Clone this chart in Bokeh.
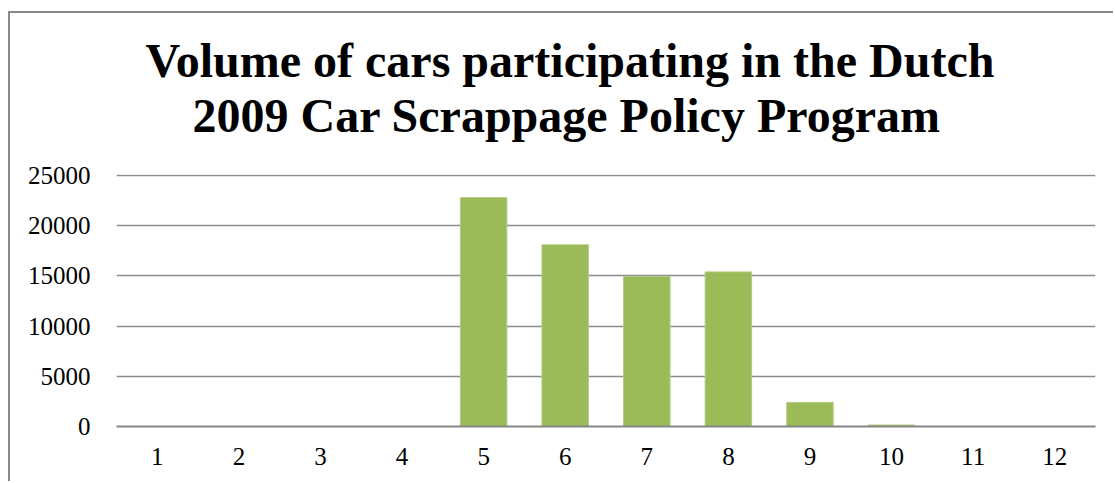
from bokeh.plotting import figure
from bokeh.models import Range1d, Title, ColumnDataSource, FixedTicker
from bokeh.embed import file_html
from bokeh.resources import INLINE

months = ["1", "2", "3", "4", "5", "6", "7", "8", "9", "10", "11", "12"]
cars = [0, 0, 0, 0, 22800, 18100, 14950, 15400, 2400, 150, 0, 0]
y_ticks = [0, 5000, 10000, 15000, 20000, 25000]
title_lines = ["Volume of cars participating in the Dutch",
               "2009 Car Scrappage Policy Program"]

src = ColumnDataSource(dict(month=months, cars=cars))

p = figure(x_range=months, y_range=Range1d(0, 25100),
           width=1105, height=470, output_backend="svg", toolbar_location=None,
           min_border_left=106, min_border_right=20, min_border_bottom=57,
           min_border_top=0)
p.styles = {"margin-left": "8px", "margin-top": "11px",
            "border-left": "2px solid #8a8a8a", "border-top": "2px solid #8a8a8a"}

# stacked from the plot upwards
p.add_layout(Title(text=" ", text_font_size="19px"), "above")
p.add_layout(Title(text=title_lines[1], align="left", text_font="Liberation Serif",
                   text_font_size="48px", text_font_style="bold",
                   text_color="black", offset=76, standoff=0), "above")
p.add_layout(Title(text=title_lines[0], align="left", text_font="Liberation Serif",
                   text_font_size="48px", text_font_style="bold",
                   text_color="black", offset=29, standoff=0), "above")
p.add_layout(Title(text=" ", text_font_size="5px"), "above")

p.vbar(x="month", top="cars", width=0.57, source=src,
       fill_color="#9BBB59", line_color="#B5CC85", line_width=1)

p.outline_line_color = None
p.background_fill_color = "white"
p.border_fill_color = "white"

p.xgrid.grid_line_color = None
p.ygrid.grid_line_color = "#8c8c8c"
p.ygrid.grid_line_width = 1.5
p.yaxis.ticker = FixedTicker(ticks=y_ticks)

for ax in (p.xaxis[0], p.yaxis[0]):
    ax.major_tick_line_color = None
    ax.minor_tick_line_color = None
    ax.major_label_text_font = "Liberation Serif"
    ax.major_label_text_font_size = "25px"
    ax.major_label_text_color = "black"

p.yaxis.axis_line_color = None
p.yaxis.major_label_standoff = 20
p.xaxis.axis_line_color = "#868686"
p.xaxis.axis_line_width = 2
p.xaxis.major_label_standoff = 15

open("out.html", "w").write(file_html(p, INLINE))
